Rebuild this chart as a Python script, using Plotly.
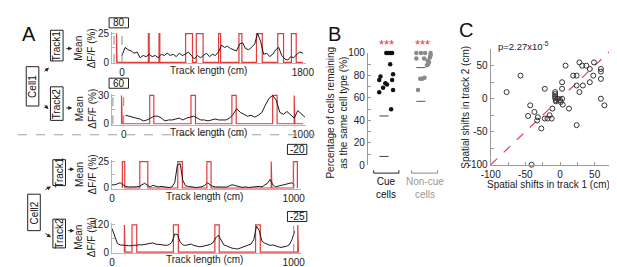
import plotly.graph_objects as go
import numpy as np

W, H = 617, 267
FONT = "Liberation Sans, Arial, sans-serif"
RED = "#e23b3b"

# ---------------- Panel A data ----------------
# Cell1 / Track1 (1800 cm track), mean dF/F every 30 cm
c1t1_pos = list(range(0, 1801, 30))
c1t1_val = [6, 13, 11, 10, 8, 9, 4, 6, 5, 7,
            5, 6, 4, 7, 6, 8, 6, 7, 5, 8,
            6, 7, 9, 6, 3, 6, 4, 6, 8, 5,
            7, 6, 9, 15, 13, 14, 12, 11, 10, 16,
            17, 12, 11, 13, 16, 25, 18, 7, 8, 5,
            7, 11, 13, 6, 3, 2, 5, 4, 7, 9, 8]
c1t1_cue_start = [-55, 262, 368, 633, 739, 961, 1164, 1338, 1550, 1686]
c1t1_cue_end = [-50, 270, 376, 701, 807, 981, 1193, 1396, 1608, 1734]
c1t1_ymax, c1t1_len, c1t1_shift = 25, 1800, 80

# Cell1 / Track2 (1000 cm track)
c1t2_pos = list(range(10, 1011, 20))
c1t2_val = [9, 8, 7, 6, 5, 3, 4, 6, 8, 8,
            6, 3, 4, 4, 5, 6, 4, 6, 7, 8,
            6, 4, 4, 3, 4, 5, 4, 4, 4, 6,
            10, 16, 12, 10, 8, 9, 7, 9, 12, 20,
            27, 30, 25, 12, 10, 13, 9, 6, 14, 11, 7]
c1t2_cue_start = [-12, 145, 375, 603, 830, 950]
c1t2_cue_end = [-8, 168, 400, 627, 855, 954]
c1t2_ymax, c1t2_len, c1t2_shift = 30, 1000, 60

# Cell2 / Track1
c2t1_pos = list(range(0, 1006, 15))
c2t1_val = [3, 3, 4, 5, 3, 1.5, 1, 0.8, 1, 1.2,
            1.5, 3, 4.5, 2.5, 1, 2.5, 1.5, 1, 1.5, 1,
            0.6, 0.4, 1, 5, 22, 23, 7, 2, 1.5, 1,
            0.6, 0.4, 0.8, 1.2, 2.5, 5, 3, 1.5, 1, 1,
            0.6, 0.4, 0.8, 2, 3, 2.5, 1.5, 1, 0.6, 1,
            0.5, 0.8, 1.2, 1, 1.5, 1, 2.5, 4.5, 8, 3,
            1, 2, 2.5, 3, 3.5, 4.5, 5, 2.5]
c2t1_cue_start = [57, 153, 362, 522, 876, 998]
c2t1_cue_end = [70, 197, 387, 545, 880, 1020]
c2t1_ymax, c2t1_len, c2t1_shift = 25, 1000, -20

# Cell2 / Track2
c2t2_pos = list(range(0, 1006, 15))
c2t2_val = [104, 75, 38, 32, 30, 31, 29, 28, 31, 30,
            33, 32, 34, 36, 37, 41, 36, 34, 33, 31,
            30, 34, 44, 80, 78, 44, 32, 30, 33, 36,
            30, 26, 24, 25, 28, 31, 34, 41, 62, 75,
            50, 32, 28, 22, 18, 16, 14, 18, 22, 26,
            30, 36, 55, 115, 95, 48, 40, 36, 30, 32,
            27, 24, 21, 22, 26, 32, 55, 92]
c2t2_cue_start = [68, 110, 338, 566, 790, 1022]
c2t2_cue_end = [72, 136, 365, 590, 816, 1026]
c2t2_ymax, c2t2_len, c2t2_shift = 120, 1000, -25

# ---------------- Panel B data ----------------
b_cue_x = [1.17, 1.3, 1.17, 1.57, 1.8, 1.97, 1.9, 2.13, 2.33, 2.5, 2.3, 2.6, 2.5, 2.6, 2.4]
b_cue_y = [76, 79, 65, 69, 73, 72, 100, 100, 100, 100, 90, 81, 76, 67, 50]
b_non_x = [5.0, 5.47, 5.9, 6.47, 5.0, 5.8, 6.17, 6.4, 6.47, 6.3, 6.2, 6.1, 5.4, 5.6, 5.85, 5.17]
b_non_y = [100, 100, 100, 100, 95, 95, 93, 96, 98, 92, 90, 89, 77, 77, 78, 67]
b_cue_chance = [44, 8]
b_non_chance = [87, 57]
b_yticks = list(range(0, 101, 10))

# ---------------- Panel C data ----------------
c_x = [-77, -57, -22, -43, -46, -37, -32, -33, -27, -22, -18, -15, -12, -11,
       -7, -7, -7, -7, -6, -6, -3, 0, 3, 1, 4, 3, 3, 8, 13, 19, 24, 24,
       28, 32, 38, 33, 28, 24, 43, 43, 49, 48, 59, 59, 59, 59, 64, -41]
c_y = [10, 35, 15, -10, -26, -20, -28, -33, -45, -30, -30, -25, -30, -15,
       10, 7, 4, 1, -2, -4, 0, -2, 0, -5, -9, 15, 25, 50, -15, 35, 35, 20,
       55, 50, 50, 20, 10, -40, 45, 25, 55, 35, 45, 41, 30, 0, -10, -100]
c_identity = [-100, 75]
c_ticks = [-100, -75, -50, -25, 0, 25, 50]


def px(x):
    return x / W


def py(y):
    return 1 - y / H


fig = go.Figure()
layout = dict(width=W, height=H, margin=dict(l=0, r=0, t=0, b=0),
              paper_bgcolor="white", plot_bgcolor="white", showlegend=False,
              font=dict(family=FONT, size=10, color="#222"))
ann = []
shapes = []


def text(x, y, s, size=10, color="#222", angle=0, xanchor="center", yanchor="middle"):
    ann.append(dict(x=px(x), y=py(y), xref="paper", yref="paper", text=s, showarrow=False,
                    font=dict(size=size, color=color, family=FONT), textangle=angle,
                    xanchor=xanchor, yanchor=yanchor))


def box(x0, y0, x1, y1, s, angle=0, size=10):
    shapes.append(dict(type="rect", xref="paper", yref="paper", x0=px(x0), x1=px(x1),
                       y0=py(y1), y1=py(y0), line=dict(color="#222", width=1), fillcolor="white",
                       layer="above"))
    text((x0 + x1) / 2, (y0 + y1) / 2, s, size=size, color="#111", angle=angle)


def arrow(x0, y0, x1, y1):
    ann.append(dict(x=px(x1), y=py(y1), xref="paper", yref="paper", ax=x0 - x1, ay=y0 - y1,
                    axref="pixel", ayref="pixel", showarrow=True, arrowhead=2, arrowsize=0.8,
                    arrowwidth=1, arrowcolor="#222", text=""))


A_panels = [
    (c1t1_pos, c1t1_val, c1t1_cue_start, c1t1_cue_end, c1t1_ymax, c1t1_len, 97, 297, 21.5, 51.5, [-100, 1830], [0, c1t1_len]),
    (c1t2_pos, c1t2_val, c1t2_cue_start, c1t2_cue_end, c1t2_ymax, c1t2_len, 97, 297, 86, 115.5, [-65, 1015], [0, c1t2_len]),
    (c2t1_pos, c2t1_val, c2t1_cue_start, c2t1_cue_end, c2t1_ymax, c2t1_len, 97, 292, 155, 182.5, [0, 1040], [0, c2t1_len]),
    (c2t2_pos, c2t2_val, c2t2_cue_start, c2t2_cue_end, c2t2_ymax, c2t2_len, 97, 292, 221, 249.5, [0, 1040], [0, c2t2_len]),
]

for i, (xp, yv, cs, ce, ymax, tlen, x0, x1, ytop, ybot, xr, xt) in enumerate(A_panels, start=1):
    pad_t, pad_b = 1.5, 1.0
    u = ymax / (ybot - ytop)
    layout[f"xaxis{i}"] = dict(domain=[px(x0), px(x1)], range=xr, anchor=f"y{i}", showline=True,
                               linecolor="#b5b5b5", linewidth=1, ticks="", tickvals=xt,
                               tickfont=dict(size=10), showgrid=False, zeroline=False)
    layout[f"yaxis{i}"] = dict(domain=[py(ybot + pad_b), py(ytop - pad_t)],
                               range=[-pad_b * u, ymax + pad_t * u], anchor=f"x{i}", showline=True,
                               linecolor="#b5b5b5", linewidth=1, ticks="inside", ticklen=3,
                               tickcolor="#b5b5b5", tickvals=[0, ymax / 2, ymax],
                               ticktext=["0", "", str(ymax)], showgrid=False, zeroline=False,
                               tickfont=dict(size=10))
    # cue square wave
    rx, ry = [cs[0]], [0]
    for s, e in zip(cs, ce):
        rx += [s, s, e, e]
        ry += [0, ymax, ymax, 0]
    rx.append(max(tlen, ce[-1]))
    ry.append(0)
    fig.add_trace(go.Scatter(x=rx, y=ry, mode="lines", line=dict(color=RED, width=1.2),
                             xaxis=f"x{i}", yaxis=f"y{i}", hoverinfo="skip"))
    fig.add_trace(go.Scatter(x=xp, y=yv, mode="lines", line=dict(color="#1a1a1a", width=1),
                             xaxis=f"x{i}", yaxis=f"y{i}"))


def vdash(axis, xv, ytop_px, ybot_px):
    shapes.append(dict(type="line", xref=axis, yref="paper", x0=xv, x1=xv,
                       y0=py(ybot_px), y1=py(ytop_px), line=dict(color="#8a8a8a", width=1, dash="dash")))


vdash("x", -c1t1_shift, 15, 52)
vdash("x", 0, 15, 52)
vdash("x2", -c1t2_shift, 79, 116)
vdash("x2", 0, 79, 116)
vdash("x3", 1000, 148, 183)
vdash("x4", 1000, 217, 250)

box(94, 5, 114, 15.5, str(c1t1_shift))
box(94, 68, 114, 78.5, str(c1t2_shift))
box(278, 137, 298, 147.5, str(c2t1_shift))
box(278, 207, 298, 217.5, str(c2t2_shift))

text(197, 60, "Track length (cm)")
text(197, 124.5, "Track length (cm)")
text(192, 191.5, "Track length (cm)")
text(192, 257, "Track length (cm)")

for yc in (37, 100, 168.5, 234):
    text(70, yc, "Mean<br>ΔF/F (%)", size=10, angle=-90)

text(11, 22, "A", size=20, color="#111")
box(8.5, 56, 21.5, 97, "Cell1", angle=-90)
box(33.5, 18, 46.5, 50, "Track1", angle=-90)
box(33.5, 77, 46.5, 112, "Track2", angle=-90)
box(10, 189, 23, 227, "Cell2", angle=-90)
box(36, 153, 49, 180, "Track1", angle=-90)
box(36, 215, 49, 245, "Track2", angle=-90)
arrow(26, 62, 32, 57)
arrow(26, 95, 31.5, 100)
arrow(48.5, 37, 56, 37)
arrow(48.5, 99, 56, 99)
arrow(27, 185, 34, 181)
arrow(27, 229, 34, 234)
arrow(50.5, 163, 58, 163)
arrow(50.5, 227, 58, 227)

shapes.append(dict(type="line", xref="paper", yref="paper", x0=px(0), x1=px(310), y0=py(127), y1=py(127),
                   line=dict(color="#a0a0a0", width=1, dash="dash")))

# ---------------- Panel B ----------------
layout["xaxis5"] = dict(domain=[px(361), px(441)], range=[0, 8], anchor="y5", visible=False)
layout["yaxis5"] = dict(domain=[py(159), py(41.7)], range=[0, 100], anchor="x5", showline=True,
                        linecolor="#9a9a9a", linewidth=1, ticks="inside", ticklen=3, tickcolor="#9a9a9a",
                        tickvals=b_yticks, ticktext=[str(v) if v % 20 == 0 else "" for v in b_yticks],
                        showgrid=False, zeroline=False, tickfont=dict(size=10))
for v in b_cue_chance:
    fig.add_trace(go.Scatter(x=[1.2, 2.6], y=[v, v], mode="lines", line=dict(color="#444", width=1, dash="dash"),
                             xaxis="x5", yaxis="y5"))
for v in b_non_chance:
    fig.add_trace(go.Scatter(x=[5.0, 6.4], y=[v, v], mode="lines", line=dict(color="#555", width=1, dash="dash"),
                             xaxis="x5", yaxis="y5"))
fig.add_trace(go.Scatter(x=b_cue_x, y=b_cue_y, mode="markers", marker=dict(color="#111", size=4.5),
                         xaxis="x5", yaxis="y5", cliponaxis=False))
fig.add_trace(go.Scatter(x=b_non_x, y=b_non_y, mode="markers", marker=dict(color="#8a8a8a", size=4.5),
                         xaxis="x5", yaxis="y5", cliponaxis=False))

for (a, b, col) in ((367, 393, "#222"), (406, 433, "#888")):
    shapes.append(dict(type="path", xref="paper", yref="paper",
                       path=f"M {px(a)} {py(164)} L {px(a)} {py(167)} L {px(b)} {py(167)} L {px(b)} {py(164)}",
                       line=dict(color=col, width=1)))
text(380, 183, "Cue<br>cells", size=10, color="#111")
text(420, 183, "Non-cue<br>cells", size=10, color="#999")
text(380, 33, "***", size=13, color=RED)
text(417, 33, "***", size=13, color=RED)
text(329, 104, "Percentage of cells remaining<br>as the same cell type (%)", size=10, angle=-90)
text(327, 22, "B", size=20, color="#111")

# ---------------- Panel C ----------------
layout["xaxis6"] = dict(domain=[px(487.7), px(610)], range=[-100, 71], anchor="y6", showline=True,
                        linecolor="#9a9a9a", linewidth=1, ticks="inside", ticklen=3, tickcolor="#9a9a9a",
                        tickvals=c_ticks, ticktext=[str(v) if v % 50 == 0 else "" for v in c_ticks],
                        showgrid=False, zeroline=False, tickfont=dict(size=10))
layout["yaxis6"] = dict(domain=[py(158.3), py(38)], range=[-100, 74.6], anchor="x6", showline=True,
                        linecolor="#9a9a9a", linewidth=1, ticks="inside", ticklen=3, tickcolor="#9a9a9a",
                        tickvals=c_ticks, ticktext=[str(v) if v % 50 == 0 else "" for v in c_ticks],
                        showgrid=False, zeroline=False, tickfont=dict(size=10))
fig.add_trace(go.Scatter(x=c_identity, y=c_identity, mode="lines",
                         line=dict(color="#e0405a", width=1.2, dash="dash"), xaxis="x6", yaxis="y6"))
fig.add_trace(go.Scatter(x=c_x, y=c_y, mode="markers",
                         marker=dict(symbol="circle-open", size=5, color="#333", line=dict(width=1)),
                         xaxis="x6", yaxis="y6", cliponaxis=False))
text(493, 34, "p=2.27x10<sup>-5</sup>", size=9.5, xanchor="left")
text(547, 179, "Spatial shifts in track 1 (cm)", size=10)
text(462, 98, "Spatial shifts in track 2 (cm)", size=10, angle=-90)
text(462, 18, "C", size=20, color="#111")

layout["annotations"] = ann
layout["shapes"] = shapes
fig.update_layout(**layout)
fig.write_html("out.html")
